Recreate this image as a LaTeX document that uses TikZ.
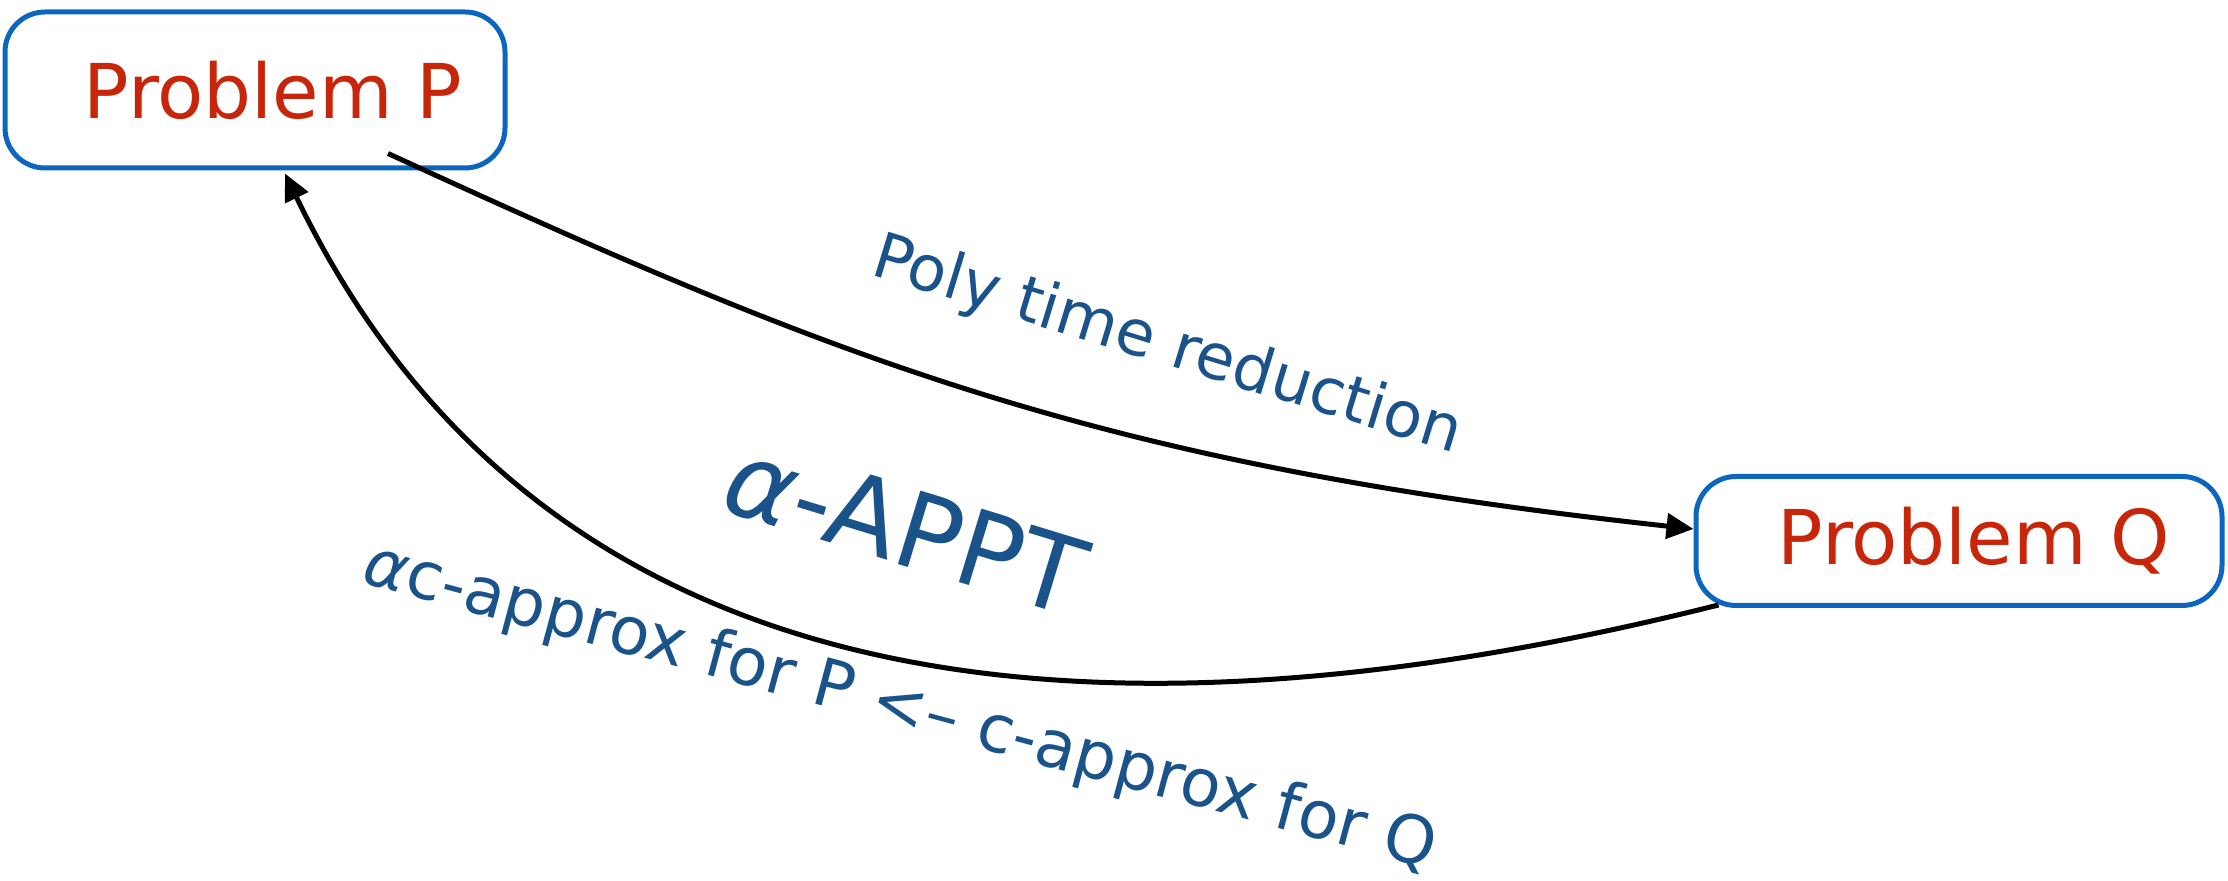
\documentclass[tikz,border=0pt]{standalone}
\usepackage{fontspec}
\setmainfont{DejaVu Sans}
\usetikzlibrary{arrows.meta, calc}
\definecolor{boxblue}{RGB}{12,102,192}
\definecolor{probred}{RGB}{200,38,10}
\definecolor{labelblue}{RGB}{26,82,138}
\tikzset{
	probbox/.style={draw=boxblue, line width=0.5mm, rounded corners=4mm, inner sep=0pt, text=probred, font=\fontsize{21.5}{26}\selectfont},
	redlabel/.style={text=labelblue, font=\fontsize{18}{22}\selectfont},
	reduce/.style={line width=0.5mm, -{Triangle[length=2.7mm, width=2.5mm]}}
}
\begin{document}
\begin{tikzpicture}[x=0.1mm, y=-0.1mm]
	\useasboundingbox (0,0) rectangle (2228,881);
	\node [probbox, minimum width=50mm, minimum height=15.6mm] (P) at (255,90) {\hspace*{3.6mm}Problem P};
	\node [probbox, minimum width=52.6mm, minimum height=12.9mm] (Q) at (1959,541) {\hspace*{3mm}Problem Q};
	% P to Q, and the way back
	\draw [reduce] ($(P.south)+(133,-17)$) .. controls (842,362) and (1097,464) .. ($(Q.west)+(0,-12)$);
	\draw [reduce] ($(Q.south west)+(25,-3)$) .. controls (1040,775) and (530,681) .. ($(P.south)+(30,3)$);
	\node [redlabel, rotate=-17] (poly) at (1167,347) {Poly time reduction};
	\node [redlabel, font=\fontsize{30}{36}\selectfont, rotate=-17] (appt) at (906,527) {\textit{α}-APPT};
	\node [redlabel, font=\fontsize{18.8}{22}\selectfont, rotate=-15] (approx) at (900,708) {\textit{α}c-approx for P <– c-approx for Q};
%	\fill (P.south) circle (4pt);
\end{tikzpicture}
\end{document}
